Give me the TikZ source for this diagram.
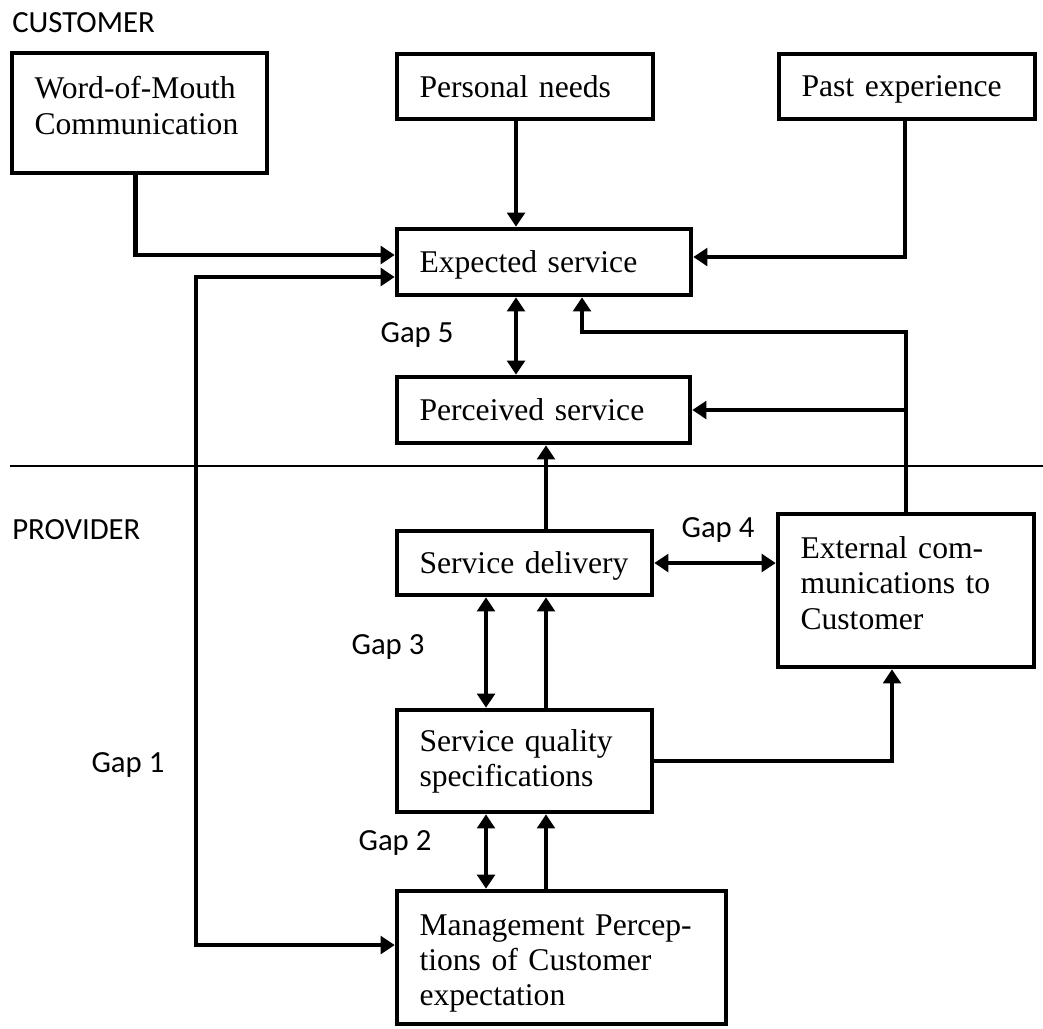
\documentclass[tikz,border=0pt]{standalone}
\usepackage{fontspec}
\setmainfont{Liberation Serif}
\newfontfamily\gapfont{Carlito}
\usetikzlibrary{arrows.meta,calc}

\begin{document}
\hyphenpenalty=10000\relax
\begin{tikzpicture}[x=0.02cm,y=-0.02cm]
  \tikzstyle{box}=[rectangle,draw=black,line width=2.6pt,inner xsep=0.45cm,align=left,font=\fontsize{18}{20}\selectfont]
  \tikzstyle{single}=[box,text depth=0pt]
  \tikzstyle{lbl}=[font=\gapfont\fontsize{17.5}{20}\selectfont,inner sep=0pt]
  \tikzstyle{arr}=[line width=2.6pt,-{Triangle[length=8pt,width=10pt]}]
  \tikzstyle{dbl}=[line width=2.6pt,{Triangle[length=8pt,width=10pt]}-{Triangle[length=8pt,width=10pt]}]
  \useasboundingbox (0,0) rectangle (1043,1028);

  \node[lbl,anchor=west] (cust) at (12,23) {CUSTOMER};
  \node[lbl,anchor=west] (prov) at (12,530) {PROVIDER};
  \draw[line width=0.7pt] (10,466) -- (1043,466);

  \node[box,text width=4.2cm,minimum height=2.40cm] (wom) at (139.5,113) {Word-of-Mouth\\Communication\\[-0.4cm]\mbox{}};
  \node[single,text width=4.22cm,minimum height=1.30cm] (pers) at (525,86.5) {Personal needs};
  \node[single,text width=4.22cm,minimum height=1.30cm] (past) at (907,86.5) {Past experience};
  \node[single,text width=4.98cm,minimum height=1.32cm] (exp) at (544,262) {Expected service};
  \node[single,text width=4.96cm,minimum height=1.32cm] (perc) at (543.5,410) {Perceived service};
  \node[single,text width=4.2cm,minimum height=1.28cm] (del) at (524.5,563) {Service delivery};
  \node[box,text width=4.22cm,minimum height=3.06cm] (ext) at (906,590.5) {External com-\\munications to\\Customer\\[-0.4cm]\mbox{}};
  \node[box,text width=4.2cm,minimum height=2.04cm] (sq) at (524.5,761) {Service quality\\specifications};
  \node[box,text width=5.68cm,minimum height=2.66cm] (mgmt) at (561.5,957.5) {\mbox{}\\[-0.05cm]Management Percep-\\tions of Customer\\expectation};

  \node[lbl] (gap1) at (128,765) {Gap 1};
  \node[lbl] (gap2) at (395,843) {Gap 2};
  \node[lbl] (gap3) at (388,647) {Gap 3};
  \node[lbl] (gap4) at (718,530) {Gap 4};
  \node[lbl] (gap5) at (417,335) {Gap 5};

  \coordinate (c1) at (516,0);
  \coordinate (c2) at (546,0);
  \coordinate (c3) at (486,0);
  \coordinate (c4) at (892,0);
  \coordinate (fb) at (582,332);
  \coordinate (g1) at (196,945);

  \draw[arr] ($(wom.south)+(-4,0)$) |- ($(exp.west)+(0,-7)$);
  \draw[arr] (pers.south -| c1) -- (exp.north -| c1);
  \draw[arr] ($(past.south)+(-2,0)$) |- ($(exp.east)+(0,-5)$);
  \draw[dbl] ($(exp.west)+(0,15)$) -| (g1) -- (mgmt.west |- g1);
  \draw[dbl] (exp.south -| c1) -- (perc.north -| c1);
  \draw[arr] (ext.north) |- (fb) -- (exp.south -| fb);
  \draw[arr] (ext.north |- perc.east) -- (perc.east);
  \draw[arr] (del.north -| c2) -- (perc.south -| c2);
  \draw[dbl] (del.east) -- (del.east -| ext.west);
  \draw[dbl] (del.south -| c3) -- (sq.north -| c3);
  \draw[arr] (sq.north -| c2) -- (del.south -| c2);
  \draw[dbl] (sq.south -| c3) -- (mgmt.north -| c3);
  \draw[arr] (mgmt.north -| c2) -- (sq.south -| c2);
  \draw[arr] (sq.east) -| (ext.south -| c4);
\end{tikzpicture}
\end{document}
